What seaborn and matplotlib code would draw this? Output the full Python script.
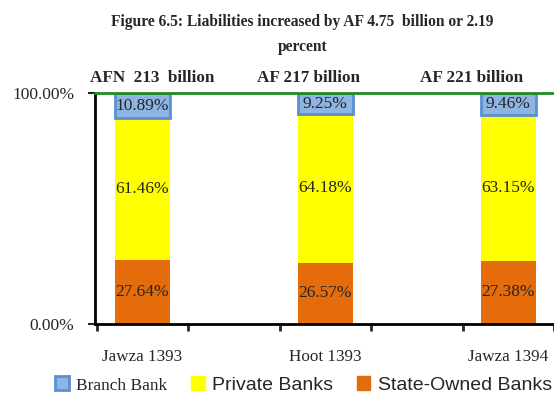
import pandas as pd
import matplotlib.pyplot as plt
import seaborn as sns
from matplotlib.patches import Patch

# Data
periods = ["Jawza 1393", "Hoot 1393", "Jawza 1394"]
state_owned = [27.64, 26.57, 27.38]
private = [61.46, 64.18, 63.15]
branch = [10.89, 9.25, 9.46]
totals = ["AFN  213  billion", "AF 217 billion", "AF 221 billion"]

df = pd.DataFrame({"Period": periods, "State": state_owned,
                   "Private": private, "Branch": branch})
df["PrivBase"] = df["State"]
df["BranchBase"] = df["State"] + df["Private"]

sns.set_style("white")
plt.rcParams["font.family"] = ["Liberation Serif", "DejaVu Serif"]

fig = plt.figure(figsize=(5.54, 3.95), dpi=100)
ax = fig.add_axes([0.1715, 0.1797, 0.8285, 0.5849])

orange = "#E46C0A"
yellow = "#FFFF00"
blue = "#8EB4E3"
blue_edge = "#5B8FD0"

# stacked bars
sns.barplot(data=df, x="Period", y="State", color=orange, width=0.3,
            saturation=1, ax=ax, linewidth=0)
sns.barplot(data=df, x="Period", y="Private", bottom=df["PrivBase"].values,
            color=yellow, width=0.3, saturation=1, ax=ax, linewidth=0)
sns.barplot(data=df, x="Period", y="Branch", bottom=df["BranchBase"].values,
            color=blue, width=0.3, saturation=1, ax=ax,
            edgecolor=blue_edge, linewidth=2)

# value labels centered in each segment
for i in range(len(periods)):
    s, p, b = state_owned[i], private[i], branch[i]
    ax.text(i, s / 2, f"{s:.2f}%", ha="center", va="center", fontsize=12.5)
    ax.text(i, s + p / 2, f"{p:.2f}%", ha="center", va="center", fontsize=12.5)
    ax.text(i, s + p + b / 2, f"{b:.2f}%", ha="center", va="center", fontsize=12.5)

# totals above bars
offsets = [0.05, -0.09, -0.2]
for i, t in enumerate(totals):
    ax.text(i + offsets[i], 103, t, ha="center", va="bottom",
            fontsize=12.3, fontweight="bold")

ax.set_ylim(0, 100)
ax.set_xlim(-0.26, 2.24)
ax.set_yticks([0, 100])
ax.set_yticklabels(["0.00%", "100.00%"], fontsize=12.5)
ax.set_xticks(range(3))
ax.set_xticklabels(periods, fontsize=12.3)
ax.set_xticks([-0.25, 0.25, 0.75, 1.25, 1.75, 2.25], minor=True)
ax.tick_params(axis="x", which="major", length=0, pad=18)
ax.tick_params(axis="x", which="minor", length=5, width=2, direction="out", bottom=True)
ax.tick_params(axis="y", length=5, width=1.5, left=True, pad=10)
ax.set_xlabel("")
ax.set_ylabel("")

for side in ["left", "bottom"]:
    ax.spines[side].set_color("black")
    ax.spines[side].set_linewidth(2)
ax.spines["right"].set_visible(False)
ax.spines["top"].set_color("#1E8C1E")
ax.spines["top"].set_linewidth(2)

fig.suptitle("Figure 6.5: Liabilities increased by AF 4.75  billion or 2.19\npercent",
             fontsize=11.2, fontweight="bold", x=0.546, y=0.965, linespacing=1.75)

handles = [Patch(facecolor=blue, edgecolor=blue_edge, linewidth=2),
           Patch(facecolor=yellow, edgecolor=yellow),
           Patch(facecolor=orange, edgecolor=orange)]
leg = fig.legend(handles, ["Branch Bank", "Private Banks", "State-Owned Banks"],
                 loc="center", bbox_to_anchor=(0.548, 0.026), ncol=3,
                 frameon=False, handlelength=0.7, handleheight=0.7,
                 handletextpad=0.4, columnspacing=1.2, fontsize=14)
texts = leg.get_texts()
texts[0].set_fontsize(12.4)
texts[1].set_fontfamily(["Liberation Sans", "DejaVu Sans"])
texts[2].set_fontfamily(["Liberation Sans", "DejaVu Sans"])

plt.savefig("out.png", dpi=100)
plt.close()
